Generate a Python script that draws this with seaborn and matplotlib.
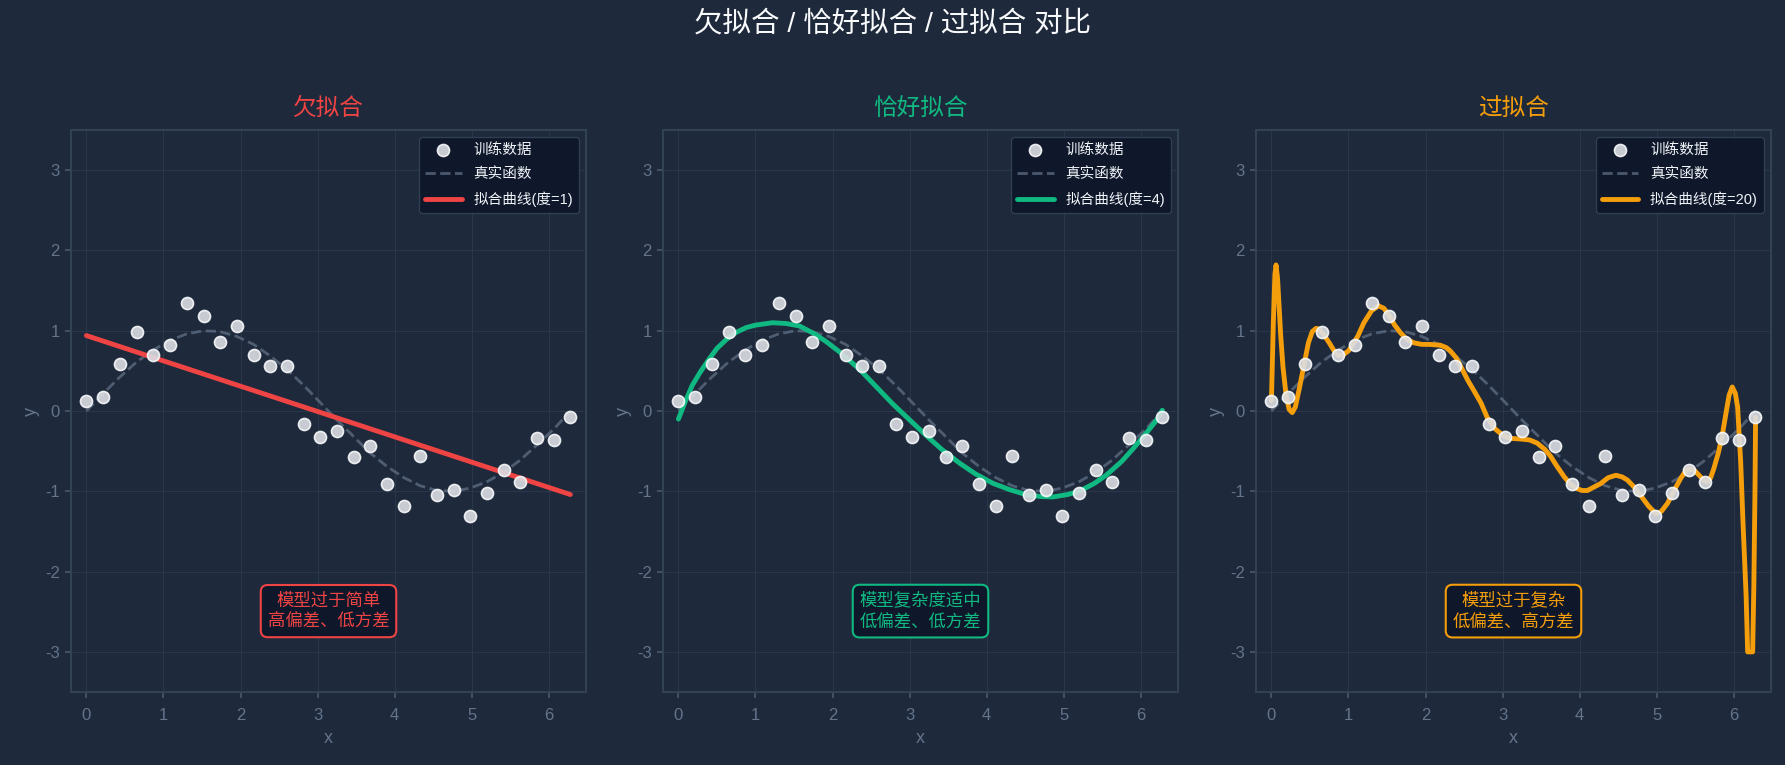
import matplotlib
matplotlib.use("Agg")
import matplotlib.pyplot as plt
import seaborn as sns

BG = "#1e293b"
PANEL_EDGE = "#334155"
MUTED = "#64748b"

sns.set_theme(style="darkgrid", rc={
    "figure.facecolor": BG, "axes.facecolor": BG,
    "axes.edgecolor": PANEL_EDGE, "grid.color": PANEL_EDGE,
})
# Latin glyphs from Liberation Sans, Chinese falls through to Noto CJK
plt.rcParams["font.family"] = ["Liberation Sans", "Noto Sans CJK SC"]
plt.rcParams["axes.unicode_minus"] = False

# ── data ─────────────────────────────────────────────────────────────────────
X_TRAIN = [0.00, 0.22, 0.43, 0.65, 0.87, 1.08, 1.30, 1.52, 1.73, 1.95,
           2.17, 2.38, 2.60, 2.82, 3.03, 3.25, 3.47, 3.68, 3.90, 4.12,
           4.33, 4.55, 4.77, 4.98, 5.20, 5.42, 5.63, 5.85, 6.07, 6.28]
Y_TRAIN = [0.12, 0.18, 0.58, 0.98, 0.70, 0.82, 1.35, 1.18, 0.86, 1.06,
           0.70, 0.56, 0.56, -0.16, -0.32, -0.25, -0.57, -0.44, -0.91, -1.18,
           -0.56, -1.04, -0.98, -1.31, -1.02, -0.73, -0.89, -0.33, -0.36, -0.08]
Y_TRUE = [0.00, 0.22, 0.42, 0.61, 0.76, 0.88, 0.96, 1.00, 0.99, 0.93,
          0.83, 0.69, 0.52, 0.32, 0.11, -0.11, -0.32, -0.52, -0.69, -0.83,
          -0.93, -0.99, -1.00, -0.96, -0.88, -0.76, -0.61, -0.42, -0.22, 0.00]

FIT1_X = [0.00, 6.28]
FIT1_Y = [0.94, -1.04]

FIT4_X = [0.00, 0.09, 0.18, 0.28, 0.40, 0.50, 0.62, 0.75, 0.88, 1.00, 1.22, 1.40,
          1.57, 1.75, 1.91, 2.10, 2.35, 2.55, 2.78, 3.00, 3.21, 3.42, 3.65, 3.85,
          4.08, 4.30, 4.51, 4.70, 4.86, 5.05, 5.20, 5.40, 5.55, 5.75, 5.90, 6.05,
          6.20, 6.28]
FIT4_Y = [-0.10, 0.12, 0.32, 0.48, 0.65, 0.78, 0.89, 0.98, 1.04, 1.07, 1.10, 1.09,
          1.06, 0.97, 0.87, 0.73, 0.52, 0.32, 0.09, -0.11, -0.30, -0.48, -0.65, -0.78,
          -0.90, -0.98, -1.04, -1.065, -1.07, -1.04, -1.00, -0.90, -0.80, -0.63, -0.47, -0.30,
          -0.12, 0.01]

FIT20_X = [0.00, 0.025, 0.045, 0.06, 0.08, 0.10, 0.12, 0.15, 0.19, 0.23, 0.27, 0.31,
           0.36, 0.42, 0.48, 0.53, 0.58, 0.62, 0.68, 0.75, 0.82, 0.87, 0.93, 1.00,
           1.05, 1.12, 1.20, 1.30, 1.39, 1.46, 1.52, 1.60, 1.675, 1.76, 1.85, 1.95,
           2.05, 2.19, 2.27, 2.32, 2.40, 2.455, 2.55, 2.63, 2.72, 2.80, 2.90, 3.00,
           3.10, 3.25, 3.35, 3.45, 3.55, 3.62, 3.70, 3.80, 3.88, 3.95, 4.03, 4.10,
           4.18, 4.27, 4.37, 4.47, 4.55, 4.62, 4.70, 4.79, 4.89, 4.99, 5.06, 5.14,
           5.22, 5.31, 5.38, 5.42, 5.49, 5.55, 5.62, 5.66, 5.70, 5.74, 5.80, 5.85,
           5.90, 5.94, 5.98, 6.02, 6.05, 6.09, 6.12, 6.16, 6.18, 6.245, 6.26, 6.275,
           6.283]
FIT20_Y = [0.13, 1.10, 1.70, 1.82, 1.65, 1.30, 0.95, 0.55, 0.20, 0.02, -0.02, 0.05,
           0.27, 0.56, 0.85, 0.99, 1.03, 1.02, 0.95, 0.85, 0.74, 0.69, 0.70, 0.75,
           0.82, 0.93, 1.10, 1.25, 1.31, 1.28, 1.20, 1.07, 0.975, 0.89, 0.85, 0.83,
           0.83, 0.82, 0.79, 0.75, 0.66, 0.56, 0.38, 0.25, 0.10, -0.08, -0.22, -0.30,
           -0.34, -0.35, -0.36, -0.40, -0.48, -0.56, -0.68, -0.82, -0.91, -0.96, -0.99, -0.99,
           -0.95, -0.905, -0.83, -0.80, -0.82, -0.86, -0.94, -1.05, -1.18, -1.28, -1.25, -1.15,
           -1.00, -0.84, -0.74, -0.72, -0.74, -0.80, -0.87, -0.88, -0.83, -0.72, -0.52, -0.305,
           -0.02, 0.20, 0.30, 0.22, 0.05, -0.64, -1.40, -2.30, -3.00, -3.00, -2.20, -1.00,
           -0.08]

PANELS = [
    ("欠拟合", "#ef4444", 1, FIT1_X, FIT1_Y, "模型过于简单\n高偏差、低方差"),
    ("恰好拟合", "#10b981", 4, FIT4_X, FIT4_Y, "模型复杂度适中\n低偏差、低方差"),
    ("过拟合", "#f59e0b", 20, FIT20_X, FIT20_Y, "模型过于复杂\n低偏差、高方差"),
]


def draw_panel(ax, title, color, degree, fit_x, fit_y, note):
    sns.lineplot(x=X_TRAIN, y=Y_TRUE, ax=ax, color=MUTED, alpha=0.7,
                 linewidth=2, linestyle="--", label="真实函数", zorder=2)
    sns.lineplot(x=fit_x, y=fit_y, ax=ax, color=color, linewidth=3.5,
                 label=f"拟合曲线(度={degree})", zorder=3, sort=False)
    sns.scatterplot(x=X_TRAIN, y=Y_TRAIN, ax=ax, s=75, color="#dcdfe4",
                    edgecolor="#f8fafc", linewidth=1.2, alpha=0.9,
                    label="训练数据", zorder=4)

    ax.set_xlim(-0.2, 6.483)
    ax.set_ylim(-3.5, 3.5)
    ax.set_xticks(range(0, 7))
    ax.set_yticks(range(-3, 4))
    ax.grid(True, color=PANEL_EDGE, alpha=0.6, linewidth=0.8)
    for sp in ax.spines.values():
        sp.set_color(PANEL_EDGE)
        sp.set_linewidth(1.5)
    ax.tick_params(colors="#475569", labelcolor=MUTED, labelsize=12,
                   length=4.5, width=1.3, bottom=True, left=True)
    ax.tick_params(axis="x", pad=7)
    ax.set_xlabel("x", color=MUTED, fontsize=13, labelpad=5)
    ax.set_ylabel("y", color=MUTED, fontsize=13)
    ax.set_title(title, color=color, fontsize=17, pad=11)

    handles, labels = ax.get_legend_handles_labels()
    order = [2, 0, 1]
    ax.legend([handles[i] for i in order], [labels[i] for i in order],
              loc="upper right", fontsize=10.5, facecolor="#0f172a",
              edgecolor=PANEL_EDGE, framealpha=0.95, handlelength=2.5,
              labelspacing=0.7, labelcolor="#f1f5f9")

    ax.text(0.5, 0.144, note, transform=ax.transAxes, ha="center", va="center",
            color=color, fontsize=12.5, linespacing=1.45,
            bbox=dict(boxstyle="round,pad=0.4", facecolor="#0f172a",
                      edgecolor=color, linewidth=1.5), zorder=5)


fig = plt.figure(figsize=(17.85, 7.65), dpi=100)
lefts = [71 / 1785, 663 / 1785, 1256 / 1785]
for left, spec in zip(lefts, PANELS):
    ax = fig.add_axes([left, 0.0954, 515 / 1785, 0.7346])
    draw_panel(ax, *spec)

fig.suptitle("欠拟合 / 恰好拟合 / 过拟合 对比", color="#f8fafc",
             fontsize=20.5, y=0.968, va="center")

fig.savefig("out.png", dpi=100, facecolor=BG)
